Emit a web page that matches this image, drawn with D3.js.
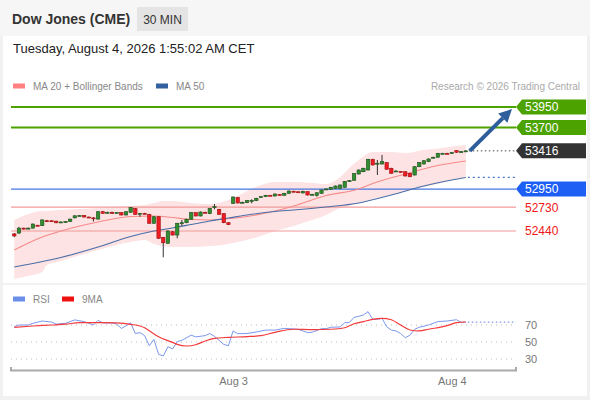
<!DOCTYPE html>
<html>
<head>
<meta charset="utf-8">
<script src="https://cdn.jsdelivr.net/npm/d3@7"></script>
<style>
body{margin:0;background:#fff;}
svg{display:block;font-family:Arial,"Liberation Sans",sans-serif;}
</style>
</head>
<body>
<svg id="chart" width="590" height="400"></svg>
<script>
// 30 min candles, Aug 2 evening -> Aug 4 01:30
var opens = [52405,52415,52475,52470,52475,52510,52505,52565,52565,52560,
52545,52550,52555,52600,52625,52628,52610,52600,52585,52675,
52660,52665,52662,52663,52635,52668,52712,52645,52655,52639,
52534,52614,52363,52290,52431,52391,52535,52541,52583,52663,
52623,52668,52651,52730,52704,52651,52541,52777,52848,52785,
52785,52809,52809,52855,52858,52875,52866,52885,52875,52899,
52924,52918,52903,52919,52880,52875,52899,52945,52948,52960,
52960,52972,53047,53058,53134,53162,53183,53313,53262,53256,
53272,53204,53165,53165,53162,53143,53122,53223,53256,53284,
53332,53338,53383,53386,53385,53418,53400,53406];
var highs = [52415,52490,52480,52482,52530,52515,52580,52575,52570,52565,
52555,52560,52590,52632,52635,52635,52615,52610,52680,52682,
52675,52677,52670,52670,52680,52730,52720,52660,52662,52650,
52620,52620,52367,52447,52440,52540,52574,52590,52670,52668,
52678,52675,52722,52769,52710,52656,52546,52860,52856,52797,
52815,52826,52844,52865,52880,52880,52896,52890,52905,52933,
52930,52922,52930,52925,52893,52912,52945,52958,52978,52994,
53006,53049,53060,53144,53189,53210,53319,53320,53305,53366,
53278,53210,53178,53170,53168,53148,53229,53278,53302,53323,
53345,53392,53392,53392,53400,53424,53412,53422];
var lows = [52365,52405,52460,52462,52470,52500,52500,52550,52555,52535,
52540,52545,52550,52595,52620,52605,52600,52555,52580,52650,
52655,52647,52655,52630,52630,52662,52638,52614,52645,52528,
52528,52345,52120,52285,52385,52351,52501,52535,52578,52618,
52618,52658,52646,52704,52638,52535,52512,52770,52776,52780,
52780,52777,52804,52850,52853,52867,52861,52873,52870,52894,
52914,52908,52898,52873,52875,52858,52894,52940,52943,52955,
52955,52967,53040,53052,53129,53157,53178,53238,53122,53250,
53186,53138,53160,53153,53104,53095,53116,53217,53250,53279,
53326,53333,53378,53377,53380,53393,53395,53400];
var closes = [52380,52475,52470,52475,52525,52505,52575,52562,52560,52540,
52550,52555,52585,52625,52628,52610,52608,52595,52675,52655,
52668,52662,52665,52635,52675,52724,52643,52655,52652,52534,
52614,52351,52297,52440,52391,52534,52541,52583,52663,52623,
52671,52663,52716,52736,52643,52541,52517,52854,52781,52790,
52809,52812,52838,52858,52875,52872,52891,52878,52899,52927,
52919,52915,52924,52878,52887,52906,52939,52952,52972,52988,
53000,53043,53053,53138,53183,53204,53313,53244,53266,53284,
53192,53143,53171,53159,53110,53101,53223,53272,53296,53317,
53338,53386,53386,53383,53394,53399,53406,53416];

// MA 20 + Bollinger bands (candle index, price)
var bandIdx = [0,3,6,7,10,18,25,28,30,32,34,38,42,46,48,50,53,56,60,64,67,70,72,74,77,81,84,88,91,94,97];
var bandUp = [52574,52647,52684,52684,52696,52720,52745,52757,52781,52805,52805,52781,52769,52818,52866,52927,53000,53037,53037,53025,53012,53098,53207,53305,53402,53402,53390,53427,53445,53469,53487];
var bandLo = [51855,51892,51941,52026,52075,52209,52306,52330,52282,52257,52245,52245,52257,52282,52306,52330,52379,52440,52501,52574,52635,52720,52745,52781,52830,52878,52927,52976,53012,53061,53098];
var ma20Idx = [0,6,10,18,25,30,34,38,42,46,50,56,60,67,74,77,84,91,97];
var ma20Val = [52209,52367,52440,52550,52617,52623,52604,52580,52574,52592,52617,52684,52745,52872,52952,53019,53134,53238,53293];
var ma50Idx = [0,10,18,25,30,34,38,42,46,50,56,60,67,74,81,88,94,97];
var ma50Val = [52002,52117,52245,52373,52440,52477,52519,52562,52598,52635,52678,52696,52732,52781,52878,52988,53061,53092];

// RSI + 9MA (candle index, value)
var rsiIdx = [0,1,3,4,6,8,9,11,13,15,16,17,18,19,21,22,23,24,25,26,27,28,29,30,31,32,33,34,35,36,38,39,41,42,43,45,46,47,48,50,52,54,56,58,61,63,64,66,67,68,70,71,72,73,74,75,76,77,78,79,80,81,82,83,84,85,86,87,89,91,93,95,96,97];
var rsiVal = [68,70,70,72,74.7,73.5,71,72,76,74,72,70,75.5,72.5,72.5,71,66,69,72.5,60,61,57.5,45.6,53,35.5,33.5,44.5,41.8,50.4,52,58,56,57.5,60,56.7,47.2,45.6,63,59.8,60,61.8,64,64,66,65,61,61.5,65.7,65.7,67.3,67.7,72.7,73,79,80.2,81.8,85.7,76.7,76.7,77.8,68,64,63,60,55,58,65,67.3,70,74,74.7,76.2,73,73.5];
var ma9Idx = [0,4,8,11,14,18,22,25,28,29,31,34,35,37,39,41,43,46,50,53,56,60,64,68,71,73,75,77,79,81,83,85,87,89,93,95,97];
var ma9Val = [67.3,68.8,70,71,72.7,72.9,72.5,70.8,66.8,63.3,56.2,49.6,47.2,45.3,46.8,51.2,54.3,55.5,56.3,57.5,61.4,65,64.5,65,66.8,71.5,74,76.7,77.8,76.2,70,64.1,63,65,69.2,72.7,73.5];

var resistances = [53950, 53700];
var lastPrice = 53416;
var pivot = 52950;
var supports = [52730, 52440];
var rsiLevels = [70, 50, 30];
var tickIdx = [47, 94];
var tickNames = ["Aug 3", "Aug 4"];

var L = 11, R = 516;
var svg = d3.select("#chart");
var x = d3.scaleLinear().domain([0, 97]).range([14.3, 465.8]);
var y = d3.scaleLinear().domain([52440, 53950]).range([231, 107]);
var yr = d3.scaleLinear().domain([30, 70]).range([359, 325]);

// frame
svg.append("rect").attr("width", 590).attr("height", 400).attr("fill", "#f1f1f1");
svg.append("rect").attr("x", 3).attr("y", 36).attr("width", 584).attr("height", 360).attr("fill", "#fff");
svg.append("rect").attr("x", 0).attr("y", 0).attr("width", 590).attr("height", 36).attr("fill", "#f6f6f6");
svg.append("rect").attr("x", 3).attr("y", 283).attr("width", 584).attr("height", 2).attr("fill", "#f2f2f2");

// header
svg.append("text").attr("x", 12).attr("y", 24).style("font-size", "14px").style("font-weight", "bold").attr("fill", "#333").text("Dow Jones (CME)");
svg.append("rect").attr("x", 137).attr("y", 7).attr("width", 51).attr("height", 24).attr("fill", "#e4e4e4");
svg.append("text").attr("x", 162.5).attr("y", 23.5).attr("text-anchor", "middle").style("font-size", "12px").attr("fill", "#333").text("30 MIN");
svg.append("text").attr("x", 13).attr("y", 53).style("font-size", "13px").attr("fill", "#222").text("Tuesday, August 4, 2026 1:55:02 AM CET");

// legends
function legend(px, py, col, label){
 svg.append("rect").attr("x", px).attr("y", py - 2.5).attr("width", 12).attr("height", 5).attr("fill", col);
 svg.append("text").attr("x", px + 20).attr("y", py + 3.5).style("font-size", "10px").attr("fill", "#888").text(label);
}
legend(13, 86, "#ff8080", "MA 20 + Bollinger Bands");
legend(156, 86, "#33609f", "MA 50");
svg.append("text").attr("x", 580).attr("y", 89.5).attr("text-anchor", "end").style("font-size", "10px").attr("fill", "#aaa").text("Research \u00a9 2026 Trading Central");
legend(13, 299, "#6b8ee8", "RSI");
legend(62, 299, "#ee1111", "9MA");

// bollinger band fill
var band = d3.area().x(function(d){ return x(d[0]); }).y0(function(d){ return y(d[2]); }).y1(function(d){ return y(d[1]); }).curve(d3.curveMonotoneX);
svg.append("path").datum(d3.zip(bandIdx, bandUp, bandLo)).attr("d", band).attr("fill", "#fde3e3");

// levels
function levelLine(v, col, w, dash, x0){
 svg.append("line").attr("x1", x0).attr("x2", R).attr("y1", y(v)).attr("y2", y(v)).attr("stroke", col).attr("stroke-width", w).attr("stroke-dasharray", dash);
}
function tag(v, col){
 var cy = y(v);
 svg.append("path").attr("d", "M" + R + "," + cy + "L" + (R + 6) + "," + (cy - 7.5) + "L586," + (cy - 7.5) + "L586," + (cy + 7.5) + "L" + (R + 6) + "," + (cy + 7.5) + "Z").attr("fill", col);
 svg.append("text").attr("x", 525).attr("y", cy).attr("dy", "0.36em").style("font-size", "12px").attr("fill", "#fff").text(v);
}
resistances.forEach(function(v){ levelLine(v, "#4ca300", 2, null, L); tag(v, "#4ca300"); });
levelLine(pivot, "#4677e0", 1.3, null, L); tag(pivot, "#1d5ff5");
supports.forEach(function(v){
 levelLine(v, "#f29a9a", 1.2, null, L);
 svg.append("text").attr("x", 525).attr("y", y(v)).attr("dy", "0.36em").style("font-size", "12px").attr("fill", "#f01818").text(v);
});

// moving averages
var line = d3.line().x(function(d){ return x(d[0]); }).y(function(d){ return y(d[1]); }).curve(d3.curveMonotoneX);
svg.append("path").datum(d3.zip(ma20Idx, ma20Val)).attr("d", line).attr("fill", "none").attr("stroke", "#f58a8a").attr("stroke-width", 1.1);
svg.append("path").datum(d3.zip(ma50Idx, ma50Val)).attr("d", line).attr("fill", "none").attr("stroke", "#4a6ea8").attr("stroke-width", 1.1);
levelLine(ma50Val[ma50Val.length - 1], "#4a78d0", 1.2, "2,3", x(97) + 2);

// candles
var cg = svg.append("g");
for (var i = 0; i < closes.length; i++) {
 var up = closes[i] >= opens[i];
 cg.append("line").attr("x1", x(i)).attr("x2", x(i)).attr("y1", y(highs[i])).attr("y2", y(lows[i])).attr("stroke", "#333").attr("stroke-width", 1);
 var bodyTop = y(Math.max(opens[i], closes[i]));
 var bodyH = Math.max(1, Math.abs(y(opens[i]) - y(closes[i])));
 cg.append("rect").attr("x", x(i) - 1.7).attr("y", bodyTop).attr("width", 3.4).attr("height", bodyH)
  .attr("fill", up ? "#2f8f2f" : "#ec1c24").attr("stroke", up ? "#1d4f1d" : "#a31010").attr("stroke-width", 0.6);
}

// last price and projection arrow
levelLine(lastPrice, "#444", 1, "1.5,2.5", x(97) + 3);
tag(lastPrice, "#333");
var ax0 = x(97) + 4, ay0 = y(lastPrice), ax1 = 512, ay1 = y(resistances[0]) + 2;
var ang = Math.atan2(ay1 - ay0, ax1 - ax0);
var hl = 13, hw = 6.5;
var bx = ax1 - hl * Math.cos(ang), by = ay1 - hl * Math.sin(ang);
svg.append("line").attr("x1", ax0).attr("y1", ay0).attr("x2", bx).attr("y2", by).attr("stroke", "#2e5d9c").attr("stroke-width", 4);
svg.append("path").attr("d", "M" + ax1 + "," + ay1 + "L" + (bx + hw * Math.sin(ang)) + "," + (by - hw * Math.cos(ang)) + "L" + (bx - hw * Math.sin(ang)) + "," + (by + hw * Math.cos(ang)) + "Z").attr("fill", "#2e5d9c");

// RSI panel
rsiLevels.forEach(function(v){
 svg.append("line").attr("x1", L).attr("x2", R).attr("y1", yr(v)).attr("y2", yr(v)).attr("stroke", "#bbb").attr("stroke-width", 1).attr("stroke-dasharray", "1,4");
 svg.append("text").attr("x", 525).attr("y", yr(v)).attr("dy", "0.36em").style("font-size", "11px").attr("fill", "#777").text(v);
});
var rline = d3.line().x(function(d){ return x(d[0]); }).y(function(d){ return yr(d[1]); });
svg.append("path").datum(d3.zip(rsiIdx, rsiVal)).attr("d", rline).attr("fill", "none").attr("stroke", "#7b98ec").attr("stroke-width", 1);
svg.append("path").datum(d3.zip(ma9Idx, ma9Val)).attr("d", rline.curve(d3.curveMonotoneX)).attr("fill", "none").attr("stroke", "#f23a3a").attr("stroke-width", 1.2);
svg.append("line").attr("x1", x(97) + 2).attr("x2", R).attr("y1", yr(rsiVal[rsiVal.length - 1])).attr("y2", yr(rsiVal[rsiVal.length - 1])).attr("stroke", "#7b98ec").attr("stroke-width", 1.2).attr("stroke-dasharray", "1.5,2.5");

// time axis
svg.append("path").attr("d", "M" + L + ",367V370.5H" + R + "V367").attr("fill", "none").attr("stroke", "#aaa").attr("stroke-width", 2);
var ax = svg.append("g").attr("transform", "translate(0,372)")
 .call(d3.axisBottom(x).tickValues(tickIdx).tickSize(0).tickPadding(5).tickFormat(function(d, k){ return tickNames[k]; }));
ax.select(".domain").remove();
ax.selectAll("text").style("font-size", "11px").style("font-family", "Arial, 'Liberation Sans', sans-serif").attr("fill", "#777");
</script>
</body>
</html>
